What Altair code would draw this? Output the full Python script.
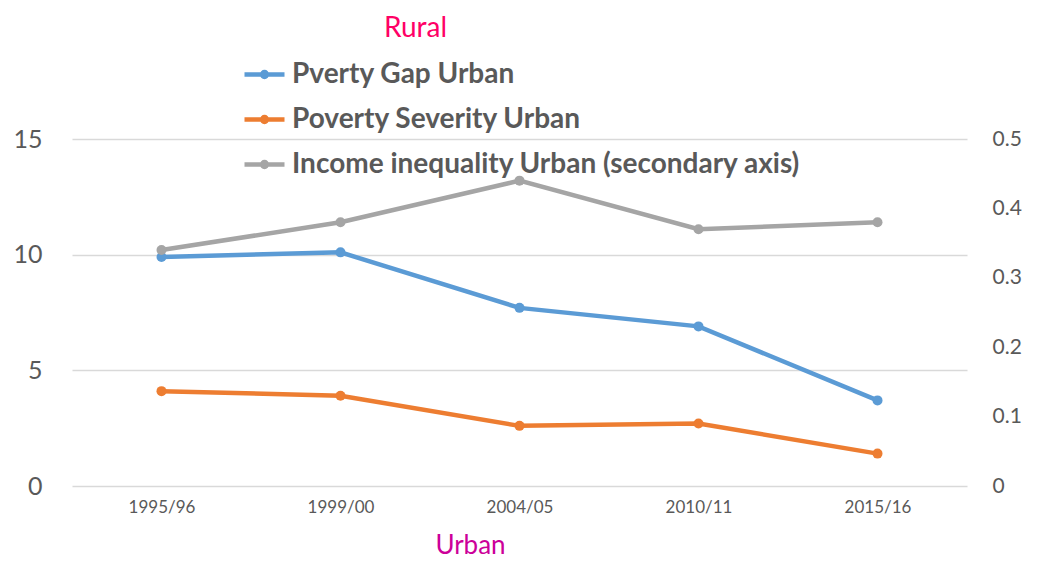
import altair as alt
import pandas as pd

years = ["1995/96", "1999/00", "2004/05", "2010/11", "2015/16"]
gap_urban = [9.9, 10.1, 7.7, 6.9, 3.7]
severity_urban = [4.1, 3.9, 2.6, 2.7, 1.4]
inequality_urban = [0.34, 0.38, 0.44, 0.37, 0.38]

s_gap = "Pverty Gap Urban"
s_sev = "Poverty Severity Urban"
s_ineq = "Income inequality Urban (secondary axis)"
series_names = [s_gap, s_sev, s_ineq]
series_colors = ["#5B9BD5", "#ED7D31", "#A5A5A5"]

left_df = pd.DataFrame(
    {"year": years * 2,
     "value": gap_urban + severity_urban,
     "series": [s_gap] * len(years) + [s_sev] * len(years)}
)
right_df = pd.DataFrame(
    {"year": years, "value": inequality_urban, "series": [s_ineq] * len(years)}
)

FONT = "Lato"
TXT = "#595959"

color = alt.Color(
    "series:N",
    scale=alt.Scale(domain=series_names, range=series_colors),
    sort=series_names,
    legend=alt.Legend(
        title=None,
        orient="none",
        legendX=170,
        legendY=-87,
        symbolType="M-1,0H1M0,-0.12A0.12,0.12 0 1,0 0,0.12A0.12,0.12 0 1,0 0,-0.12",
        symbolSize=1600,
        symbolStrokeWidth=4.5,
        labelFont=FONT,
        labelFontSize=28,
        labelFontWeight="bold",
        labelColor=TXT,
        labelOffset=5,
        rowPadding=8,
        labelLimit=800,
    ),
)

x = alt.X(
    "year:N",
    sort=years,
    scale=alt.Scale(padding=0.5),
    axis=alt.Axis(
        title="Urban",
        titleColor="#CC0099",
        titleFont=FONT,
        titleFontSize=26,
        titleFontWeight="normal",
        titleX=398,
        titleY=67,
        titleBaseline="alphabetic",
        titleAlign="center",
        labelAngle=0,
        labelFont=FONT,
        labelFontSize=17,
        labelColor=TXT,
        labelPadding=13,
        domain=False,
        ticks=False,
        grid=False,
    ),
)

line_style = dict(strokeWidth=4.5, point=alt.OverlayMarkDef(size=100, filled=True, opacity=1))

left = alt.Chart(left_df).mark_line(**line_style).encode(
    x=x,
    y=alt.Y(
        "value:Q",
        scale=alt.Scale(domain=[0, 15], nice=False),
        axis=alt.Axis(
            title=None,
            values=[0, 5, 10, 15],
            labelFont=FONT,
            labelFontSize=25,
            labelColor=TXT,
            labelPadding=30,
            domain=False,
            ticks=False,
            grid=True,
            gridColor="#D9D9D9",
            gridWidth=1.5,
        ),
    ),
    color=color,
)

right = alt.Chart(right_df).mark_line(**line_style).encode(
    x=x,
    y=alt.Y(
        "value:Q",
        scale=alt.Scale(domain=[0, 0.5], nice=False),
        axis=alt.Axis(
            title=None,
            orient="right",
            values=[0, 0.1, 0.2, 0.3, 0.4, 0.5],
            format="~g",
            labelFont=FONT,
            labelFontSize=21,
            labelColor=TXT,
            labelPadding=25,
            domain=False,
            ticks=False,
            grid=False,
        ),
    ),
    color=color,
)

chart = (
    alt.layer(left, right)
    .resolve_scale(y="independent")
    .properties(
        width=895,
        height=347,
        autosize=alt.AutoSizeParams(type="none"),
        padding={"left": 64, "top": 131, "right": 60, "bottom": 74},
        title=alt.TitleParams(
            "Rural",
            color="#FF0066",
            font=FONT,
            fontSize=28,
            fontWeight="normal",
            anchor="middle",
            frame="group",
            dx=-104,
            offset=9,
        ),
    )
    .configure_view(stroke=None)
)

chart.save("out.html", embed_options={"renderer": "svg", "actions": False})
